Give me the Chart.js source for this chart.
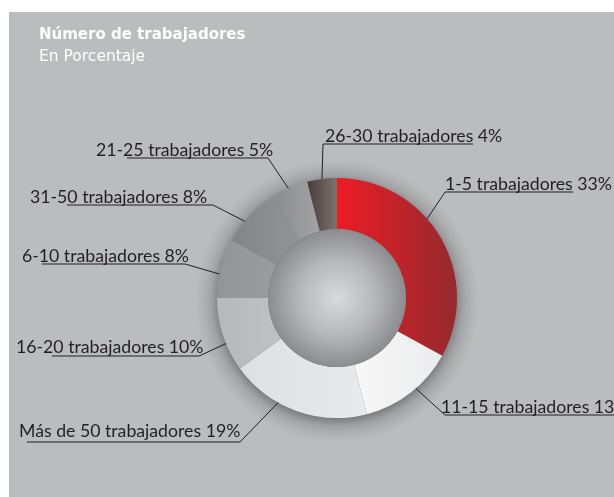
<!DOCTYPE html>
<html>
<head>
<meta charset="utf-8">
<script src="https://cdn.jsdelivr.net/npm/chart.js@4.4.1/dist/chart.umd.min.js"></script>
<style>
  html, body { margin: 0; padding: 0; background: #ffffff; }
  canvas { display: block; }
</style>
</head>
<body>
<canvas id="workersChart" width="614" height="497"></canvas>
<script>
// Datos del gráfico (en sentido horario desde arriba)
const categories = [
    '1-5 trabajadores',
    '11-15 trabajadores',
    'Más de 50 trabajadores',
    '16-20 trabajadores',
    '6-10 trabajadores',
    '31-50 trabajadores',
    '21-25 trabajadores',
    '26-30 trabajadores'
];
const values = [33, 13, 19, 10, 8, 8, 5, 4];

// Colores de cada porción: [izquierda, derecha]
const sliceColors = [
    ['#ec1c24', '#942a2e'],
    ['#f7f7f7', '#ebeced'],
    ['#dedfe0', '#e9eaeb'],
    ['#b7b8ba', '#c0c1c3'],
    ['#939497', '#9b9c9f'],
    ['#838487', '#939497'],
    ['#8b8c8f', '#a2a3a5'],
    ['#483d3a', '#7d726e']
];

// Posición de cada etiqueta: texto (x, línea base), subrayado (x1, x2, y),
// lado de la guía y punto de la porción donde llega la guía (fracción)
const labelLayout = [
    { x: 445, y: 190, u1: 445, u2: 573, uy: 192, side: 'left',  at: 0.41 },
    { x: 441, y: 413, u1: 445, u2: 614, uy: 415, side: 'left',  at: 0.43 },
    { x: 19,  y: 437, u1: 27,  u2: 240, uy: 442, side: 'right', at: 0.64 },
    { x: 16,  y: 353, u1: 52,  u2: 199, uy: 356, side: 'right', at: 0.38 },
    { x: 22,  y: 262, u1: 42,  u2: 185, uy: 264, side: 'right', at: 0.40 },
    { x: 30,  y: 203, u1: 67,  u2: 213, uy: 205, side: 'right', at: 0.38 },
    { x: 96,  y: 156, u1: 127, u2: 268, uy: 158, side: 'right', at: 0.47 },
    { x: 325, y: 142, u1: 323, u2: 473, uy: 144, side: 'left',  at: 0.5 }
];

const INK = '#231f20';

const backgroundPlugin = {
    id: 'panelBackground',
    beforeDraw(chart) {
        const ctx = chart.ctx;
        ctx.save();
        ctx.fillStyle = '#ffffff';
        ctx.fillRect(0, 0, chart.width, chart.height);
        ctx.fillStyle = '#bbbcbe';
        ctx.fillRect(9, 12, chart.width - 9, chart.height - 12);

        // Título
        ctx.fillStyle = '#ffffff';
        ctx.textBaseline = 'alphabetic';
        ctx.font = 'bold 15px "DejaVu Sans"';
        ctx.fillText('Número de trabajadores', 39, 39);
        ctx.font = '15.5px "DejaVu Sans"';
        ctx.fillText('En Porcentaje', 39, 61);
        ctx.restore();
    }
};

// Sombra alrededor del anillo y degradados de cada porción
const ringPlugin = {
    id: 'ringEffects',
    beforeDatasetsDraw(chart) {
        const meta = chart.getDatasetMeta(0);
        const first = meta.data[0];
        if (!first) return;
        const ctx = chart.ctx;
        const cx = first.x, cy = first.y, r = first.outerRadius;

        ctx.save();
        const shadow = ctx.createRadialGradient(cx, cy + 3, r - 4, cx, cy + 3, r + 22);
        shadow.addColorStop(0, 'rgba(60,60,64,0.55)');
        shadow.addColorStop(0.4, 'rgba(90,90,94,0.25)');
        shadow.addColorStop(1, 'rgba(120,120,124,0)');
        ctx.fillStyle = shadow;
        ctx.beginPath();
        ctx.arc(cx, cy + 3, r + 22, 0, Math.PI * 2);
        ctx.fill();
        ctx.restore();

        meta.data.forEach((arc, i) => {
            let minX = Infinity, maxX = -Infinity;
            for (let k = 0; k <= 20; k++) {
                const a = arc.startAngle + (arc.endAngle - arc.startAngle) * k / 20;
                [arc.innerRadius, arc.outerRadius].forEach(rr => {
                    const px = arc.x + Math.cos(a) * rr;
                    minX = Math.min(minX, px);
                    maxX = Math.max(maxX, px);
                });
            }
            const g = ctx.createLinearGradient(minX, 0, maxX, 0);
            g.addColorStop(0, sliceColors[i][0]);
            g.addColorStop(1, sliceColors[i][1]);
            arc.options.backgroundColor = g;
        });
    },
    afterDatasetsDraw(chart) {
        const meta = chart.getDatasetMeta(0);
        const first = meta.data[0];
        if (!first) return;
        const ctx = chart.ctx;
        const cx = first.x, cy = first.y, ri = first.innerRadius;

        // Esfera central
        ctx.save();
        const sphere = ctx.createRadialGradient(cx, cy, 0, cx, cy, ri);
        sphere.addColorStop(0, '#d9dadc');
        sphere.addColorStop(0.55, '#b6b7b9');
        sphere.addColorStop(1, '#8b8c8f');
        ctx.fillStyle = sphere;
        ctx.beginPath();
        ctx.arc(cx, cy, ri, 0, Math.PI * 2);
        ctx.fill();
        ctx.restore();

        // Etiquetas con línea guía y subrayado
        ctx.save();
        ctx.font = '17.7px Lato';
        ctx.fillStyle = INK;
        ctx.strokeStyle = INK;
        ctx.textBaseline = 'alphabetic';
        meta.data.forEach((arc, i) => {
            const lay = labelLayout[i];
            const ang = arc.startAngle + (arc.endAngle - arc.startAngle) * lay.at;
            const ax = arc.x + Math.cos(ang) * arc.outerRadius;
            const ay = arc.y + Math.sin(ang) * arc.outerRadius;
            const sx = lay.side === 'left' ? lay.u1 : lay.u2;

            ctx.fillText(categories[i] + ' ' + values[i] + '%', lay.x, lay.y);

            ctx.lineWidth = 1.2;
            ctx.beginPath();
            ctx.moveTo(lay.u1, lay.uy);
            ctx.lineTo(lay.u2, lay.uy);
            ctx.stroke();

            ctx.lineWidth = 1;
            ctx.beginPath();
            ctx.moveTo(sx, lay.uy);
            ctx.lineTo(ax, ay);
            ctx.stroke();
        });
        ctx.restore();
    }
};

new Chart(document.getElementById('workersChart'), {
    type: 'doughnut',
    data: {
        labels: categories,
        datasets: [{
            data: values,
            backgroundColor: sliceColors.map(c => c[0]),
            borderWidth: 0
        }]
    },
    options: {
        responsive: false,
        animation: false,
        cutout: '57.5%',
        layout: {
            padding: { top: 178, bottom: 79, left: 217, right: 157 }
        },
        plugins: {
            legend: { display: false },
            tooltip: { enabled: false }
        }
    },
    plugins: [backgroundPlugin, ringPlugin]
});
</script>
</body>
</html>
